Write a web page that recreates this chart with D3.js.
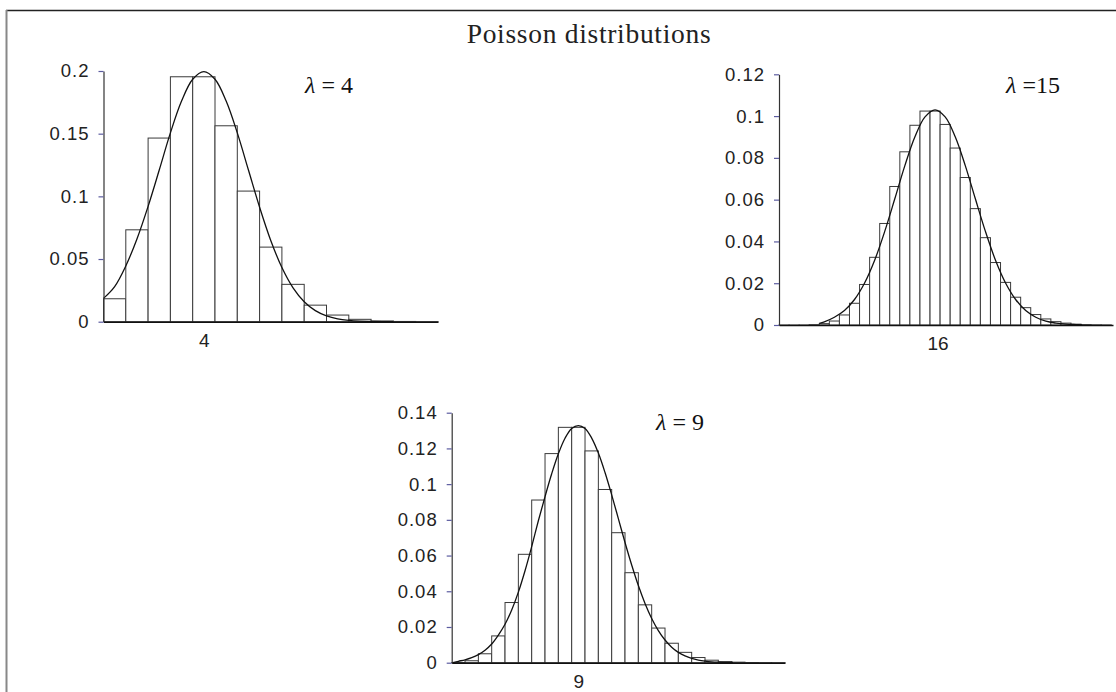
<!DOCTYPE html>
<html>
<head>
<meta charset="utf-8">
<script src="https://cdn.jsdelivr.net/npm/d3@7"></script>
<style>
	body { margin: 0; background: #fff; }
	svg { display: block; }
	.ylab text { font-family: "Liberation Sans", Arial, sans-serif; font-size: 18.5px; letter-spacing: 1px; fill: #222; }
	.xlab text { font-family: "Liberation Sans", Arial, sans-serif; font-size: 19px; fill: #222; }
</style>
</head>
<body>
<svg class="chart"></svg>
<script>
/* Poisson distributions: three histograms with normal curves */

var titleText = "Poisson distributions";

// lambda = 4
var bars4 = [0.0183, 0.0733, 0.1465, 0.1954, 0.1954, 0.1563, 0.1042, 0.0595, 0.0298, 0.0132, 0.0053, 0.0019, 0.0006, 0.0002, 0.00005];
var curveX4 = [-0.5, 0, 0.5, 1, 1.5, 2, 2.5, 3, 3.5, 4, 4.5, 5, 5.5, 6, 6.5, 7, 7.5, 8, 8.5, 9, 9.5, 10, 10.5, 11, 11.5, 12, 12.5];
var curveY4 = [0.0186, 0.028, 0.0445, 0.066, 0.092, 0.121, 0.1506, 0.176, 0.1934, 0.1995, 0.1934, 0.176, 0.1506, 0.121, 0.0913, 0.0648, 0.0432, 0.027, 0.0159, 0.0088, 0.0046, 0.0022, 0.001, 0.0004, 0.0002, 0.0001, 0.00002];
var yTicks4 = [0, 0.05, 0.1, 0.15, 0.2];
var yTickLabels4 = ["0", "0.05", "0.1", "0.15", "0.2"];
var xTicks4 = [4];
var xTickLabels4 = ["4"];

// lambda = 15
var bars15 = [0.0000003, 0.000005, 0.00003, 0.00017, 0.00065, 0.0019, 0.0048, 0.0104, 0.0194, 0.0324, 0.0486, 0.0663, 0.0829, 0.0956, 0.1024, 0.1024, 0.096, 0.0847, 0.0706, 0.0557, 0.0418, 0.0299, 0.0204, 0.0133, 0.0083, 0.005, 0.0029, 0.0016, 0.0009, 0.0004, 0.0002, 0.0001, 0.00005];
var curveX15 = [3.5, 4, 5, 6, 7, 8, 9, 10, 11, 12, 13, 14, 15, 16, 17, 18, 19, 20, 21, 22, 23, 24, 25, 26, 27, 28, 29, 29.6];
var curveY15 = [0.0008, 0.0015, 0.0037, 0.0069, 0.0122, 0.0201, 0.031, 0.0448, 0.0604, 0.0763, 0.0901, 0.0996, 0.103, 0.0996, 0.0901, 0.0763, 0.0604, 0.0448, 0.031, 0.0201, 0.0122, 0.0069, 0.0037, 0.0018, 0.0009, 0.0004, 0.0002, 0.0001];
var yTicks15 = [0, 0.02, 0.04, 0.06, 0.08, 0.1, 0.12];
var yTickLabels15 = ["0", "0.02", "0.04", "0.06", "0.08", "0.1", "0.12"];
var xTicks15 = [15.25];
var xTickLabels15 = ["16"];

// lambda = 9
var bars9 = [0.0001, 0.0011, 0.005, 0.015, 0.0337, 0.0607, 0.0911, 0.1171, 0.1318, 0.1318, 0.1186, 0.097, 0.0728, 0.0504, 0.0324, 0.0194, 0.0109, 0.0058, 0.0029, 0.0014, 0.0006, 0.0003, 0.0001, 0.00004, 0.00001];
var curveX9 = [-0.4, 0, 0.5, 1, 1.5, 2, 2.5, 3, 3.5, 4, 4.5, 5, 5.5, 6, 6.5, 7, 7.5, 8, 8.5, 9, 9.5, 10, 10.5, 11, 11.5, 12, 12.5, 13, 13.5, 14, 14.5, 15, 15.5, 16, 16.5, 17, 17.5, 18, 18.5, 19, 19.5, 20, 20.6];
var curveY9 = [0.0001, 0.0008, 0.0016, 0.0028, 0.0045, 0.007, 0.0105, 0.0155, 0.0215, 0.0295, 0.0395, 0.0515, 0.065, 0.0795, 0.093, 0.1058, 0.117, 0.1257, 0.1312, 0.1328, 0.1312, 0.1258, 0.1174, 0.1065, 0.094, 0.0807, 0.0673, 0.0547, 0.0432, 0.0332, 0.0248, 0.018, 0.0127, 0.0087, 0.0058, 0.0038, 0.0024, 0.0015, 0.0009, 0.0005, 0.0003, 0.0002, 0.0001];
var yTicks9 = [0, 0.02, 0.04, 0.06, 0.08, 0.1, 0.12, 0.14];
var yTickLabels9 = ["0", "0.02", "0.04", "0.06", "0.08", "0.1", "0.12", "0.14"];
var xTicks9 = [9];
var xTickLabels9 = ["9"];


function makePoissonChart() {

	var width = 1116,
		height = 692;

	var svg = d3.select(".chart")
		.attr("width", width)
		.attr("height", height);

	// Frame lines (top and left only)
	svg.append("line")
		.attr("x1", 6).attr("x2", width)
		.attr("y1", 10.5).attr("y2", 10.5)
		.attr("stroke", "#222")
		.attr("stroke-width", 1.6);
	svg.append("line")
		.attr("x1", 6.5).attr("x2", 6.5)
		.attr("y1", 10).attr("y2", height)
		.attr("stroke", "#888")
		.attr("stroke-width", 2);

	// Title
	svg.append("text")
		.attr("x", 589)
		.attr("y", 42.5)
		.attr("text-anchor", "middle")
		.style("font-family", "'Liberation Serif', 'Times New Roman', serif")
		.style("font-size", "27.5px")
		.style("letter-spacing", "0.7px")
		.attr("fill", "#222")
		.text(titleText);

	// Draw one histogram panel
	function drawPanel(p) {
		var x = d3.scaleLinear()
			.domain(p.xDomain)
			.range([p.left, p.right]);

		var y = d3.scaleLinear()
			.domain([0, p.yMax])
			.range([p.bottom, p.top]);

		var g = svg.append("g");

		// Bars
		g.selectAll(".bar")
			.data(p.bars)
		  .enter().append("rect")
			.attr("class", "bar")
			.attr("x", function(d, i) { return x(i - 0.5); })
			.attr("width", function(d, i) { return x(i + 0.5) - x(i - 0.5); })
			.attr("y", function(d) { return y(d); })
			.attr("height", function(d) { return y(0) - y(d); })
			.attr("fill", "#fff")
			.attr("stroke", "#3a3a3a")
			.attr("stroke-width", 1);

		// Normal curve
		var pts = p.curveX.map(function(v, i) { return [v, p.curveY[i]]; });
		var line = d3.line()
			.x(function(d) { return x(d[0]); })
			.y(function(d) { return y(d[1]); })
			.curve(d3.curveCatmullRom);
		g.append("path")
			.datum(pts)
			.attr("d", line)
			.attr("fill", "none")
			.attr("stroke", "#111")
			.attr("stroke-width", 1.3);

		// y axis
		var yAxis = d3.axisLeft(y)
			.tickValues(p.yTicks)
			.tickFormat(function(d, i) { return p.yTickLabels[i]; })
			.tickSizeOuter(0)
			.tickSizeInner(5)
			.tickPadding(9);
		var ya = g.append("g")
			.attr("class", "ylab")
			.attr("transform", "translate(" + p.left + ",0)")
			.call(yAxis);
		ya.select(".domain").attr("stroke", "#333").attr("stroke-width", 1.2);
		ya.selectAll(".tick line").attr("stroke", "#5c5ca0").attr("stroke-width", 1.2);

		// x axis
		var xAxis = d3.axisBottom(x)
			.tickValues(p.xTicks)
			.tickFormat(function(d, i) { return p.xTickLabels[i]; })
			.tickSizeOuter(0)
			.tickSizeInner(0)
			.tickPadding(12);
		var xa = g.append("g")
			.attr("class", "xlab")
			.attr("transform", "translate(0," + p.bottom + ")")
			.call(xAxis);
		xa.select(".domain").attr("stroke", "#111").attr("stroke-width", 1.6);

		// lambda label
		var lab = g.append("text")
			.attr("x", p.labX)
			.attr("y", p.labY)
			.style("font-family", "'Liberation Serif', 'Times New Roman', serif")
			.style("font-size", "24px")
			.attr("fill", "#111");
		lab.append("tspan").style("font-style", "italic").text("\u03bb");
		lab.append("tspan").text(p.labText);
	}

	drawPanel({
		bars: bars4, curveX: curveX4, curveY: curveY4,
		yTicks: yTicks4, yTickLabels: yTickLabels4,
		xTicks: xTicks4, xTickLabels: xTickLabels4,
		xDomain: [-0.5, 14.5], yMax: 0.2,
		left: 103.5, right: 438, top: 71, bottom: 321.7,
		labX: 305, labY: 93, labText: " = 4"
	});

	drawPanel({
		bars: bars15, curveX: curveX15, curveY: curveY15,
		yTicks: yTicks15, yTickLabels: yTickLabels15,
		xTicks: xTicks15, xTickLabels: xTickLabels15,
		xDomain: [-0.5, 32.67], yMax: 0.12,
		left: 779, right: 1113, top: 74.3, bottom: 325,
		labX: 1006, labY: 93, labText: " =15"
	});

	drawPanel({
		bars: bars9, curveX: curveX9, curveY: curveY9,
		yTicks: yTicks9, yTickLabels: yTickLabels9,
		xTicks: xTicks9, xTickLabels: xTickLabels9,
		xDomain: [-0.5, 24.5], yMax: 0.14,
		left: 451.7, right: 785, top: 412.7, bottom: 662.7,
		labX: 656, labY: 430, labText: " = 9"
	});
}

makePoissonChart();
</script>
</body>
</html>
